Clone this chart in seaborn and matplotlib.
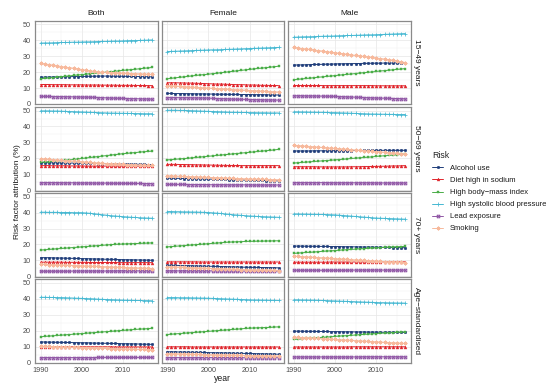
import matplotlib
matplotlib.use("Agg")
import matplotlib.pyplot as plt
import seaborn as sns
import pandas as pd
from matplotlib.path import Path
from matplotlib.lines import Line2D
from matplotlib.ticker import MultipleLocator

# ---------------- data ----------------
YEARS = list(range(1990, 2018))
SEXES = ["Both", "Female", "Male"]
AGES = ["15\u221249 years", "50\u221269 years", "70+ years", "Age\u2212standardised"]
RISK_KEYS = ["alc", "sod", "bmi", "sbp", "lead", "smk"]
RISK_LABELS = ["Alcohol use", "Diet high in sodium", "High body\u2212mass index",
               "High systolic blood pressure", "Lead exposure", "Smoking"]

BOTH_15_49 = dict(
    sbp=[38.2,38.3,38.3,38.4,38.5,38.6,38.6,38.7,38.8,38.8,38.9,39.0,39.0,39.1,39.2,39.3,39.3,39.4,39.5,39.5,39.6,39.7,39.8,39.8,39.9,40.0,40.1,40.2],
    smk=[25.5,25.1,24.7,24.3,23.9,23.5,23.1,22.8,22.4,22.0,21.6,21.2,20.8,20.4,20.0,19.9,19.8,19.7,19.6,19.5,19.3,19.2,19.1,19.0,18.9,18.8,18.6,18.5],
    bmi=[15.8,16.1,16.3,16.6,16.9,17.1,17.4,17.6,17.9,18.2,18.4,18.7,19.0,19.2,19.5,19.7,20.0,20.3,20.5,20.8,21.1,21.3,21.6,21.8,22.1,22.4,22.6,22.9],
    alc=[16.8,16.8,16.9,16.9,17.0,17.0,17.1,17.1,17.2,17.2,17.3,17.3,17.4,17.4,17.5,17.5,17.5,17.5,17.4,17.4,17.4,17.3,17.3,17.2,17.2,17.1,17.1,17.0],
    sod=[12.2,12.2,12.2,12.1,12.1,12.1,12.1,12.0,12.0,12.0,12.0,11.9,11.9,11.9,11.9,11.8,11.8,11.8,11.8,11.7,11.7,11.7,11.7,11.6,11.6,11.6,11.5,11.5],
    lead=[4.7,4.7,4.7,4.6,4.6,4.6,4.5,4.5,4.4,4.4,4.3,4.3,4.2,4.1,4.0,3.9,3.8,3.7,3.6,3.5,3.5,3.4,3.3,3.3,3.2,3.1,3.1,3.0],
)
FEMALE_15_49 = dict(
    sbp=[32.9,33.0,33.1,33.2,33.3,33.4,33.5,33.6,33.7,33.8,33.9,34.0,34.0,34.1,34.2,34.3,34.4,34.5,34.6,34.7,34.8,34.9,35.0,35.1,35.2,35.3,35.4,35.5],
    bmi=[15.8,16.1,16.4,16.7,17.0,17.3,17.6,17.9,18.2,18.4,18.7,19.0,19.3,19.6,19.9,20.2,20.5,20.8,21.1,21.4,21.7,22.0,22.3,22.5,22.8,23.1,23.4,23.7],
    sod=[13.3,13.3,13.3,13.2,13.2,13.1,13.1,13.0,12.9,12.8,12.7,12.6,12.5,12.5,12.4,12.3,12.2,12.1,12.1,12.0,11.9,11.9,11.8,11.7,11.7,11.6,11.6,11.5],
    smk=[11.5,11.3,11.2,11.0,10.9,10.7,10.5,10.4,10.2,10.1,9.9,9.8,9.6,9.5,9.3,9.2,9.0,8.9,8.7,8.6,8.4,8.3,8.2,8.0,7.9,7.8,7.6,7.5],
    alc=[6.6,6.6,6.5,6.5,6.5,6.4,6.4,6.3,6.3,6.3,6.2,6.2,6.1,6.1,6.1,6.0,6.0,6.0,5.9,5.9,5.9,5.8,5.8,5.8,5.7,5.7,5.6,5.6],
    lead=[4.0,4.0,4.0,3.9,3.9,3.9,3.8,3.8,3.7,3.7,3.6,3.5,3.4,3.3,3.2,3.1,3.0,2.9,2.9,2.8,2.7,2.7,2.6,2.6,2.5,2.5,2.4,2.4],
)
MALE_15_49 = dict(
    sbp=[41.9,42.0,42.1,42.2,42.2,42.3,42.4,42.5,42.6,42.6,42.7,42.8,42.9,43.0,43.0,43.1,43.2,43.3,43.4,43.4,43.5,43.6,43.7,43.8,43.9,44.0,44.1,44.2],
    smk=[35.5,35.2,34.8,34.5,34.2,33.8,33.5,33.2,32.8,32.5,32.2,31.8,31.5,31.2,30.8,30.5,30.2,29.8,29.5,29.2,28.8,28.5,28.2,27.8,27.5,27.0,26.5,26.0],
    alc=[24.4,24.5,24.5,24.6,24.7,24.8,24.8,24.9,25.0,25.0,25.1,25.2,25.2,25.3,25.3,25.4,25.4,25.5,25.5,25.6,25.6,25.6,25.7,25.7,25.7,25.8,25.8,25.8],
    bmi=[15.2,15.5,15.7,16.0,16.2,16.5,16.8,17.0,17.3,17.5,17.8,18.1,18.3,18.6,18.8,19.1,19.4,19.6,19.9,20.1,20.4,20.7,20.9,21.2,21.4,21.7,21.9,22.2],
    sod=[11.6,11.6,11.6,11.6,11.6,11.6,11.6,11.5,11.5,11.5,11.5,11.5,11.5,11.5,11.5,11.5,11.5,11.5,11.5,11.5,11.4,11.4,11.4,11.4,11.4,11.4,11.4,11.4],
    lead=[5.1,5.1,5.1,5.0,5.0,5.0,4.9,4.9,4.8,4.8,4.7,4.6,4.5,4.4,4.3,4.2,4.1,4.0,3.9,3.8,3.7,3.6,3.6,3.5,3.4,3.4,3.3,3.2],
)
BOTH_50_69 = dict(
    sbp=[49.8,49.8,49.8,49.7,49.7,49.6,49.5,49.4,49.3,49.2,49.1,49.0,48.9,48.8,48.7,48.6,48.5,48.4,48.4,48.3,48.3,48.2,48.2,48.1,48.1,48.0,48.0,48.0],
    bmi=[17.5,17.7,17.9,18.1,18.3,18.5,18.8,19.0,19.3,19.6,19.9,20.2,20.5,20.8,21.1,21.4,21.7,22.0,22.3,22.6,22.9,23.1,23.4,23.6,23.9,24.1,24.3,24.5],
    smk=[19.8,19.6,19.4,19.2,19.0,18.8,18.6,18.4,18.2,18.0,17.8,17.6,17.4,17.2,17.0,16.9,16.7,16.6,16.5,16.4,16.2,16.1,16.0,15.9,15.8,15.7,15.6,15.5],
    alc=[17.3,17.3,17.2,17.2,17.2,17.1,17.1,17.0,17.0,17.0,16.9,16.9,16.8,16.8,16.7,16.7,16.6,16.6,16.5,16.5,16.4,16.4,16.3,16.3,16.2,16.2,16.1,16.0],
    sod=[15.4,15.4,15.4,15.3,15.3,15.3,15.3,15.2,15.2,15.2,15.2,15.1,15.1,15.1,15.1,15.1,15.1,15.1,15.1,15.1,15.1,15.1,15.1,15.1,15.1,15.1,15.1,15.1],
    lead=[4.7,4.7,4.7,4.7,4.7,4.6,4.6,4.6,4.6,4.5,4.5,4.5,4.5,4.4,4.4,4.4,4.4,4.3,4.3,4.3,4.3,4.2,4.2,4.2,4.2,4.1,4.1,4.1],
)
FEMALE_50_69 = dict(
    sbp=[50.2,50.2,50.2,50.1,50.1,50.0,49.9,49.8,49.7,49.6,49.5,49.4,49.3,49.2,49.1,49.0,48.9,48.9,48.8,48.8,48.7,48.7,48.6,48.6,48.6,48.5,48.5,48.5],
    bmi=[19.0,19.2,19.4,19.6,19.8,20.0,20.3,20.5,20.8,21.0,21.3,21.5,21.8,22.0,22.3,22.5,22.8,23.0,23.3,23.5,23.8,24.0,24.3,24.5,24.8,25.0,25.3,25.6],
    sod=[16.2,16.2,16.2,16.1,16.1,16.0,16.0,15.9,15.9,15.8,15.8,15.7,15.7,15.6,15.6,15.5,15.5,15.5,15.4,15.4,15.4,15.4,15.4,15.4,15.4,15.4,15.4,15.4],
    smk=[9.0,8.9,8.8,8.7,8.6,8.5,8.4,8.3,8.2,8.1,8.0,7.9,7.8,7.7,7.6,7.5,7.4,7.3,7.2,7.1,7.0,6.9,6.9,6.8,6.7,6.6,6.6,6.5],
    alc=[7.5,7.5,7.4,7.4,7.3,7.3,7.2,7.1,7.1,7.0,6.9,6.9,6.8,6.7,6.7,6.6,6.5,6.5,6.4,6.3,6.3,6.2,6.1,6.1,6.0,5.9,5.9,5.8],
    lead=[3.6,3.6,3.6,3.6,3.6,3.5,3.5,3.5,3.5,3.5,3.4,3.4,3.4,3.4,3.4,3.3,3.3,3.3,3.3,3.3,3.3,3.2,3.2,3.2,3.2,3.2,3.2,3.2],
)
MALE_50_69 = dict(
    sbp=[49.2,49.2,49.1,49.1,49.0,49.0,48.9,48.9,48.8,48.7,48.7,48.6,48.5,48.4,48.3,48.2,48.1,48.0,47.9,47.8,47.8,47.7,47.7,47.6,47.6,47.5,47.5,47.5],
    smk=[28.2,28.0,27.8,27.6,27.4,27.2,27.0,26.8,26.6,26.4,26.2,26.0,25.8,25.6,25.4,25.2,25.0,24.8,24.6,24.4,24.2,24.0,23.8,23.6,23.4,23.2,22.9,22.7],
    alc=[24.6,24.6,24.6,24.6,24.6,24.7,24.7,24.7,24.7,24.7,24.8,24.8,24.8,24.8,24.8,24.9,24.9,24.9,24.9,24.9,25.0,25.0,25.0,25.0,25.0,25.0,25.0,25.0],
    bmi=[17.0,17.2,17.4,17.6,17.8,18.0,18.2,18.4,18.6,18.8,19.0,19.2,19.4,19.6,19.9,20.1,20.3,20.5,20.7,20.9,21.2,21.4,21.6,21.8,22.0,22.2,22.4,22.6],
    sod=[14.7,14.7,14.7,14.7,14.7,14.7,14.6,14.6,14.6,14.6,14.6,14.6,14.6,14.6,14.7,14.7,14.7,14.8,14.8,14.9,14.9,15.0,15.0,15.1,15.2,15.2,15.3,15.4],
    lead=[4.7,4.7,4.7,4.7,4.7,4.7,4.7,4.7,4.7,4.6,4.6,4.6,4.6,4.6,4.6,4.6,4.6,4.6,4.6,4.6,4.5,4.5,4.5,4.5,4.5,4.5,4.5,4.5],
)
BOTH_70 = dict(
    sbp=[40.3,40.3,40.2,40.2,40.2,40.1,40.1,40.1,40.0,40.0,40.0,39.8,39.6,39.3,39.0,38.7,38.4,38.1,37.9,37.7,37.5,37.3,37.1,37.0,36.8,36.7,36.6,36.5],
    bmi=[16.5,16.7,16.9,17.1,17.3,17.5,17.7,17.9,18.1,18.3,18.5,18.7,18.9,19.1,19.3,19.5,19.7,19.9,20.1,20.2,20.3,20.4,20.5,20.6,20.7,20.8,20.9,21.0],
    alc=[11.8,11.7,11.7,11.6,11.5,11.5,11.4,11.3,11.3,11.2,11.1,11.1,11.0,10.9,10.9,10.8,10.7,10.7,10.6,10.5,10.5,10.4,10.4,10.3,10.3,10.2,10.2,10.1],
    sod=[8.9,8.9,8.9,8.9,8.9,8.9,8.8,8.8,8.8,8.8,8.8,8.8,8.7,8.7,8.7,8.7,8.7,8.7,8.7,8.6,8.6,8.6,8.6,8.6,8.6,8.6,8.6,8.6],
    smk=[7.6,7.5,7.4,7.3,7.2,7.1,7.0,6.9,6.8,6.7,6.6,6.5,6.4,6.3,6.2,6.1,6.0,5.9,5.8,5.7,5.6,5.5,5.4,5.3,5.2,5.1,5.0,4.9],
    lead=[3.2,3.2,3.2,3.2,3.2,3.2,3.2,3.2,3.3,3.3,3.3,3.3,3.3,3.3,3.3,3.3,3.3,3.3,3.3,3.4,3.4,3.4,3.4,3.4,3.4,3.4,3.4,3.4],
)
FEMALE_70 = dict(
    sbp=[40.7,40.7,40.6,40.6,40.5,40.5,40.4,40.4,40.3,40.2,40.1,39.9,39.7,39.5,39.2,39.0,38.7,38.5,38.3,38.1,37.9,37.8,37.6,37.5,37.4,37.3,37.2,37.1],
    bmi=[18.5,18.7,18.9,19.1,19.3,19.5,19.7,19.9,20.1,20.3,20.5,20.7,20.9,21.1,21.3,21.5,21.6,21.7,21.8,21.9,22.0,22.0,22.1,22.1,22.2,22.2,22.3,22.3],
    sod=[9.1,9.1,9.1,9.1,9.1,9.1,9.1,9.1,9.0,9.0,9.0,9.0,9.0,9.0,9.0,9.0,9.0,9.0,9.0,9.0,9.0,9.0,9.0,9.0,9.0,9.0,9.0,9.0],
    alc=[7.0,6.9,6.9,6.8,6.7,6.7,6.6,6.5,6.5,6.4,6.3,6.3,6.2,6.1,6.1,6.0,5.9,5.9,5.8,5.7,5.7,5.6,5.6,5.5,5.5,5.4,5.4,5.3],
    smk=[6.0,5.9,5.8,5.7,5.6,5.5,5.4,5.3,5.2,5.1,5.0,4.9,4.8,4.7,4.6,4.5,4.4,4.3,4.2,4.1,4.0,4.0,3.9,3.8,3.8,3.7,3.7,3.6],
    lead=[3.4,3.4,3.4,3.4,3.4,3.4,3.4,3.4,3.4,3.4,3.4,3.4,3.4,3.4,3.3,3.3,3.3,3.3,3.3,3.3,3.3,3.3,3.3,3.3,3.3,3.3,3.3,3.3],
)
MALE_70 = dict(
    sbp=[39.2,39.2,39.1,39.1,39.0,39.0,38.9,38.9,38.8,38.7,38.6,38.4,38.2,38.0,37.8,37.6,37.4,37.2,37.0,36.8,36.6,36.5,36.4,36.3,36.2,36.1,36.0,35.9],
    alc=[19.0,19.0,19.0,18.9,18.9,18.9,18.8,18.8,18.8,18.7,18.7,18.7,18.6,18.6,18.6,18.5,18.5,18.4,18.4,18.4,18.3,18.3,18.2,18.2,18.1,18.1,18.0,18.0],
    bmi=[14.4,14.6,14.8,15.0,15.1,15.3,15.5,15.7,15.9,16.0,16.2,16.4,16.6,16.7,16.9,17.1,17.3,17.4,17.6,17.8,17.9,18.1,18.2,18.3,18.5,18.6,18.7,18.8],
    smk=[12.7,12.5,12.4,12.2,12.1,11.9,11.8,11.6,11.5,11.3,11.1,11.0,10.8,10.7,10.5,10.3,10.2,10.0,9.9,9.7,9.6,9.4,9.3,9.1,9.0,8.8,8.7,8.5],
    sod=[8.9,8.9,8.9,8.9,8.9,8.9,8.9,8.9,8.9,9.0,9.0,9.0,9.0,9.0,9.0,9.0,9.0,9.0,9.0,9.0,9.1,9.1,9.1,9.1,9.1,9.1,9.1,9.1],
    lead=[3.8,3.8,3.8,3.8,3.8,3.8,3.8,3.8,3.8,3.8,3.8,3.8,3.8,3.8,3.9,3.9,3.9,3.9,3.9,3.9,3.9,3.9,3.9,3.9,3.9,3.9,3.9,3.9],
)
BOTH_STD = dict(
    sbp=[41.0,41.0,40.9,40.9,40.8,40.8,40.7,40.6,40.5,40.4,40.3,40.2,40.1,40.0,39.8,39.7,39.6,39.5,39.4,39.3,39.2,39.1,39.1,39.0,39.0,38.9,38.9,38.8],
    bmi=[16.2,16.4,16.6,16.8,17.0,17.2,17.4,17.6,17.8,18.0,18.2,18.4,18.6,18.8,19.0,19.2,19.4,19.6,19.8,20.0,20.2,20.4,20.6,20.8,21.0,21.1,21.3,21.5],
    alc=[12.9,12.9,12.8,12.8,12.7,12.7,12.6,12.6,12.5,12.5,12.4,12.4,12.3,12.2,12.2,12.1,12.1,12.0,12.0,11.9,11.8,11.8,11.7,11.7,11.6,11.5,11.5,11.4],
    sod=[10.0,10.0,10.0,10.0,10.0,10.0,10.0,9.9,9.9,9.9,9.9,9.9,9.9,9.9,9.9,9.9,9.9,9.9,9.8,9.8,9.8,9.8,9.8,9.8,9.8,9.8,9.8,9.8],
    smk=[10.3,10.2,10.1,10.0,9.9,9.8,9.7,9.6,9.6,9.5,9.4,9.3,9.2,9.1,9.0,9.0,8.9,8.8,8.7,8.6,8.5,8.5,8.4,8.3,8.2,8.2,8.1,8.0],
    lead=[3.1,3.1,3.1,3.1,3.1,3.1,3.1,3.1,3.1,3.1,3.1,3.1,3.1,3.1,3.2,3.2,3.2,3.2,3.2,3.2,3.2,3.2,3.2,3.2,3.2,3.2,3.2,3.2],
)
FEMALE_STD = dict(
    sbp=[40.8,40.8,40.8,40.7,40.7,40.7,40.6,40.6,40.5,40.5,40.4,40.3,40.2,40.1,40.0,39.9,39.8,39.7,39.6,39.5,39.4,39.3,39.3,39.2,39.2,39.1,39.1,39.0],
    bmi=[17.6,17.8,18.0,18.2,18.4,18.6,18.8,19.0,19.2,19.4,19.6,19.8,20.0,20.2,20.4,20.6,20.8,21.0,21.2,21.4,21.6,21.7,21.8,21.9,22.0,22.1,22.3,22.4],
    sod=[9.9,9.9,9.9,9.9,9.9,9.9,9.8,9.8,9.8,9.8,9.8,9.8,9.8,9.8,9.8,9.8,9.8,9.8,9.8,9.8,9.8,9.8,9.8,9.8,9.8,9.8,9.8,9.8],
    alc=[6.8,6.7,6.7,6.6,6.6,6.5,6.5,6.4,6.4,6.3,6.2,6.2,6.1,6.1,6.0,6.0,5.9,5.8,5.8,5.7,5.7,5.6,5.5,5.5,5.4,5.4,5.3,5.2],
    smk=[5.6,5.5,5.5,5.4,5.3,5.3,5.2,5.1,5.1,5.0,4.9,4.9,4.8,4.7,4.7,4.6,4.6,4.5,4.5,4.4,4.4,4.3,4.3,4.2,4.2,4.1,4.1,4.0],
    lead=[3.1,3.1,3.1,3.1,3.1,3.1,3.1,3.1,3.1,3.1,3.1,3.1,3.1,3.1,3.1,3.1,3.1,3.1,3.0,3.0,3.0,3.0,3.0,3.0,3.0,3.0,3.0,3.0],
)
MALE_STD = dict(
    sbp=[39.4,39.4,39.3,39.3,39.2,39.2,39.1,39.0,38.9,38.8,38.7,38.6,38.5,38.4,38.3,38.2,38.1,38.0,37.9,37.8,37.7,37.6,37.6,37.5,37.5,37.4,37.4,37.3],
    alc=[19.7,19.7,19.7,19.6,19.6,19.6,19.5,19.5,19.5,19.4,19.4,19.4,19.3,19.3,19.3,19.2,19.2,19.2,19.1,19.1,19.1,19.0,19.0,19.0,19.0,18.9,18.9,18.9],
    bmi=[14.5,14.7,14.9,15.1,15.3,15.5,15.7,15.8,16.0,16.2,16.4,16.6,16.8,16.9,17.1,17.3,17.5,17.7,17.8,18.0,18.2,18.4,18.5,18.7,18.8,19.0,19.1,19.3],
    smk=[16.0,15.8,15.7,15.5,15.4,15.2,15.1,14.9,14.8,14.6,14.5,14.3,14.2,14.0,13.9,13.7,13.6,13.4,13.3,13.1,13.0,12.8,12.7,12.5,12.4,12.3,12.1,12.0],
    sod=[9.8,9.8,9.8,9.8,9.8,9.8,9.8,9.8,9.8,9.8,9.8,9.8,9.8,9.8,9.9,9.9,9.9,9.9,9.9,9.9,9.9,9.9,9.9,9.9,9.9,9.9,9.9,9.9],
    lead=[3.5,3.5,3.5,3.5,3.5,3.5,3.5,3.5,3.5,3.5,3.5,3.5,3.5,3.5,3.5,3.5,3.5,3.6,3.6,3.6,3.6,3.6,3.6,3.6,3.6,3.6,3.6,3.6],
)

PANELS = {
    (AGES[0], "Both"): BOTH_15_49, (AGES[0], "Female"): FEMALE_15_49, (AGES[0], "Male"): MALE_15_49,
    (AGES[1], "Both"): BOTH_50_69, (AGES[1], "Female"): FEMALE_50_69, (AGES[1], "Male"): MALE_50_69,
    (AGES[2], "Both"): BOTH_70, (AGES[2], "Female"): FEMALE_70, (AGES[2], "Male"): MALE_70,
    (AGES[3], "Both"): BOTH_STD, (AGES[3], "Female"): FEMALE_STD, (AGES[3], "Male"): MALE_STD,
}

rows = []
for (age, sex), d in PANELS.items():
    for key, label in zip(RISK_KEYS, RISK_LABELS):
        vals = d[key]
        assert len(vals) == len(YEARS), (age, sex, key, len(vals))
        for y, v in zip(YEARS, vals):
            rows.append(dict(age=age, sex=sex, risk=label, year=y, value=v))
df = pd.DataFrame(rows)

# ---------------- style ----------------
sns.set_style("white")
plt.rcParams["font.family"] = ["Liberation Sans", "DejaVu Sans"]

COLORS = {
    "Alcohol use": "#1f3d7a",
    "Diet high in sodium": "#e0242b",
    "High body\u2212mass index": "#4aad48",
    "High systolic blood pressure": "#45b8d2",
    "Lead exposure": "#9158a6",
    "Smoking": "#f7b99c",
}
box_x = Path([(-1, -1), (1, -1), (1, 1), (-1, 1), (-1, -1), (1, 1), (-1, 1), (1, -1)],
             [Path.MOVETO, Path.LINETO, Path.LINETO, Path.LINETO, Path.LINETO,
              Path.LINETO, Path.MOVETO, Path.LINETO])
MARKERS = {
    "Alcohol use": ("o", True, 1.9),
    "Diet high in sodium": ("^", True, 2.1),
    "High body\u2212mass index": ("s", True, 1.6),
    "High systolic blood pressure": ("+", False, 2.9),
    "Lead exposure": (box_x, False, 2.0),
    "Smoking": ((8, 2, 0), False, 2.8),
}

W, H = 556, 388
fig, axes = plt.subplots(4, 3, figsize=(W / 100, H / 100), dpi=100, sharex=True, sharey=True)
fig.subplots_adjust(left=35 / W, right=410.7 / W, top=1 - 20.7 / H, bottom=1 - 363 / H,
                    wspace=0.033, hspace=0.03)

for i, age in enumerate(AGES):
    for j, sex in enumerate(SEXES):
        ax = axes[i, j]
        sub = df[(df.age == age) & (df.sex == sex)]
        for risk in RISK_LABELS:
            c = COLORS[risk]
            m, filled, ms = MARKERS[risk]
            sns.lineplot(data=sub[sub.risk == risk], x="year", y="value", ax=ax,
                         color=c, lw=0.7, marker=m, markersize=ms,
                         markeredgecolor=c, markerfacecolor=c if filled else "none",
                         markeredgewidth=0.3 if filled else 0.55,
                         errorbar=None, legend=False)
        ax.set_xlim(1988.65, 2018.35)
        ax.set_ylim(-0.3, 52.3)
        ax.set_xticks([1990, 2000, 2010])
        ax.set_yticks([0, 10, 20, 30, 40, 50])
        ax.xaxis.set_minor_locator(MultipleLocator(5))
        ax.yaxis.set_minor_locator(MultipleLocator(5))
        ax.grid(which="major", color="#e6e6e6", lw=0.5)
        ax.grid(which="minor", color="#f0f0f0", lw=0.35)
        ax.set_axisbelow(True)
        ax.set_xlabel("")
        ax.set_ylabel("")
        for s in ax.spines.values():
            s.set_color("#8a8a8a")
            s.set_linewidth(0.9)
        ax.tick_params(which="major", length=2.2, width=0.5, color="#555555",
                       labelsize=5.2, labelcolor="#4d4d4d", pad=1)
        ax.tick_params(which="minor", length=0)
        if i == 0:
            ax.text(0.5, 1.09, sex, transform=ax.transAxes, ha="center", va="center",
                    fontsize=6, color="#1a1a1a")
        if j == 2:
            ax.text(1.05, 0.5, age, transform=ax.transAxes, ha="center", va="center",
                    rotation=-90, fontsize=6, color="#1a1a1a")

fig.text(18 / W, 1 - 192 / H, "Risk factor attribution (%)", rotation=90,
         ha="center", va="center", fontsize=6, color="#1a1a1a")
fig.text(222.8 / W, 1 - 378.5 / H, "year", ha="center", va="center",
         fontsize=6.2, color="#1a1a1a")

handles = []
for risk in RISK_LABELS:
    c = COLORS[risk]
    m, filled, ms = MARKERS[risk]
    handles.append(Line2D([0], [0], color=c, lw=0.7, marker=m, markersize=ms,
                          markeredgecolor=c, markerfacecolor=c if filled else "none",
                          markeredgewidth=0.3 if filled else 0.55))
leg = fig.legend(handles, RISK_LABELS, title="Risk", loc="upper left",
                 bbox_to_anchor=(432 / W, 1 - 151 / H), frameon=False,
                 fontsize=5.5, title_fontsize=6.3, handlelength=1.5,
                 handletextpad=0.8, labelspacing=0.62, alignment="left",
                 borderaxespad=0, borderpad=0)
for t in leg.get_texts():
    t.set_color("#1a1a1a")

fig.savefig("out.png", dpi=100, facecolor="white")
